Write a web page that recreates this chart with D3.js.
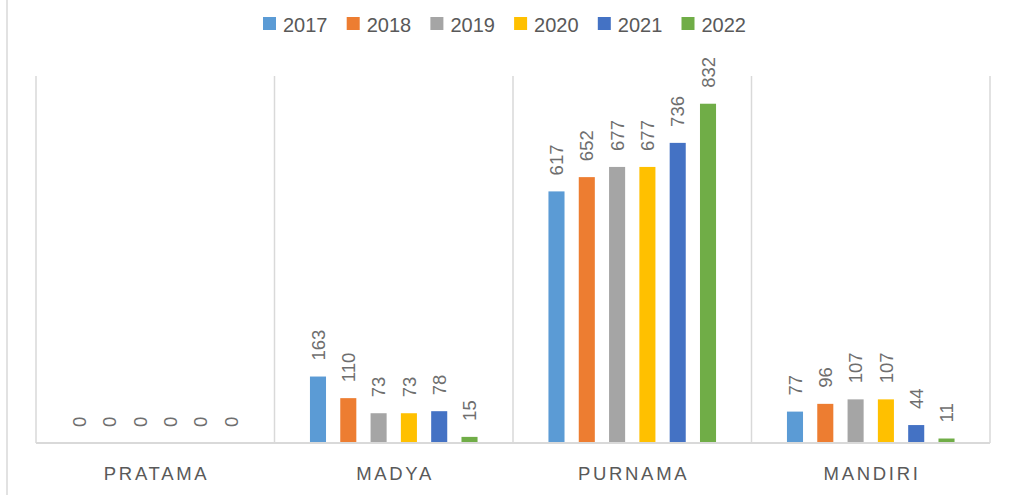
<!DOCTYPE html>
<html><head><meta charset="utf-8">
<script src="https://cdn.jsdelivr.net/npm/d3@7"></script>
<style>body{margin:0;background:#fff}svg{display:block}text{font-family:"Liberation Sans",Arial,sans-serif}</style>
</head><body><svg id="c" width="1009" height="495"></svg>
<script>
const categories = ["PRATAMA","MADYA","PURNAMA","MANDIRI"];
const years = ["2017","2018","2019","2020","2021","2022"];
const colors = ["#5B9BD5","#ED7D31","#A5A5A5","#FFC000","#4472C4","#70AD47"];
const v2017 = [0,163,617,77];
const v2018 = [0,110,652,96];
const v2019 = [0,73,677,107];
const v2020 = [0,73,677,107];
const v2021 = [0,78,736,44];
const v2022 = [0,15,832,11];
const series = [v2017,v2018,v2019,v2020,v2021,v2022];
const yMax = 900;

const svg = d3.select("#c");
const L=36, R=990, T=76, B=443;
const grid="#d9d9d9", txt="#595959";

svg.append("line").attr("x1",7).attr("x2",7).attr("y1",0).attr("y2",495).attr("stroke",grid).attr("stroke-width",1.5);

const x0 = d3.scaleBand().domain(categories).range([L,R]).padding(0);
const x1 = d3.scaleBand().domain(years).range([0,x0.bandwidth()]).paddingInner(0.47).paddingOuter(1.17);
const y = d3.scaleLinear().domain([0,yMax]).range([B,T]);

const bounds = categories.map(c=>x0(c)).concat([R]);
svg.selectAll("line.g").data(bounds).join("line").attr("class","g")
  .attr("x1",d=>d).attr("x2",d=>d).attr("y1",T).attr("y2",B)
  .attr("stroke",grid).attr("stroke-width",1.5);

const data = [];
categories.forEach((c,ci)=>years.forEach((yr,si)=>data.push({c,yr,si,v:series[si][ci]})));
svg.selectAll("rect.b").data(data).join("rect").attr("class","b")
  .attr("x",d=>x0(d.c)+x1(d.yr)).attr("width",x1.bandwidth())
  .attr("y",d=>y(d.v)).attr("height",d=>B-y(d.v))
  .attr("fill",d=>colors[d.si]);

svg.append("line").attr("x1",L).attr("x2",R).attr("y1",B).attr("y2",B).attr("stroke",grid).attr("stroke-width",2);

svg.selectAll("text.v").data(data).join("text").attr("class","v")
  .attr("transform",d=>`translate(${x0(d.c)+x1(d.yr)+x1.bandwidth()/2},${y(d.v)-16}) rotate(-90)`)
  .attr("dy","0.36em").attr("font-size",18.5).attr("fill","#6e6e6e").text(d=>d.v);

svg.selectAll("text.cat").data(categories).join("text").attr("class","cat")
  .attr("x",d=>x0(d)+x0.bandwidth()/2+1.35).attr("y",480)
  .attr("text-anchor","middle").attr("font-size",18.5).attr("letter-spacing","2.7px")
  .attr("fill",txt).text(d=>d);

const lg = svg.append("g");
const lx0 = 263, step = 83.7;
years.forEach((yr,i)=>{
  const g = lg.append("g").attr("transform",`translate(${lx0+i*step},0)`);
  g.append("rect").attr("x",0).attr("y",17).attr("width",13).attr("height",13).attr("fill",colors[i]);
  g.append("text").attr("x",20).attr("y",31.5).attr("font-size",20).attr("fill",txt).text(yr);
});
</script></body></html>
